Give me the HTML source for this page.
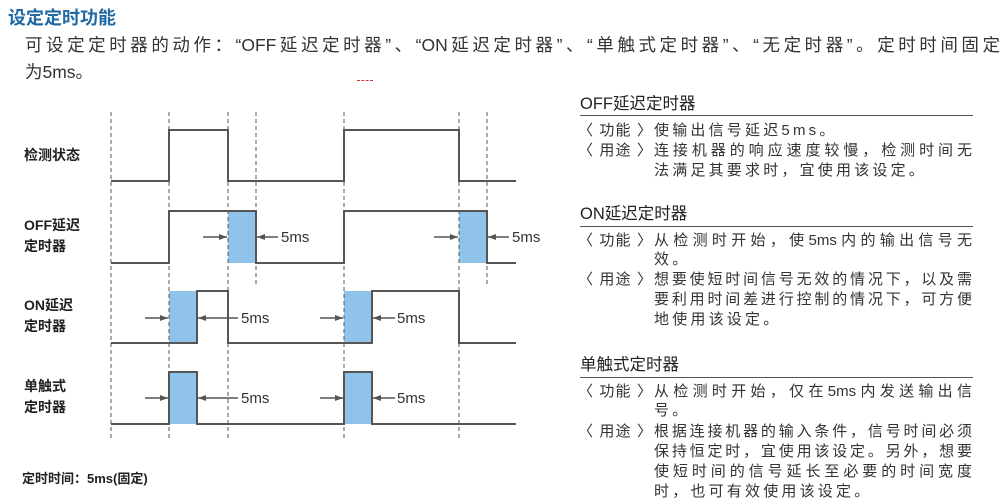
<!DOCTYPE html>
<html><head><meta charset="utf-8"><style>
body{margin:0;width:1000px;height:502px;background:#fff;position:relative;overflow:hidden;font-family:"Liberation Sans","Noto Sans CJK SC",sans-serif;color:#333}
.a{position:absolute;white-space:nowrap}
.j{position:absolute;text-align:justify;text-align-last:justify;white-space:nowrap;overflow:visible}
.lab{position:absolute;font-size:14px;line-height:21px;color:#222;font-weight:bold}
.h{position:absolute;left:580px;font-size:16.5px;color:#222;line-height:20px}
.hl{position:absolute;left:580px;width:393px;height:0;border-top:1.5px solid #555}
.b{position:absolute;font-size:15px;line-height:20px;color:#333;letter-spacing:3.2px}
.p{position:absolute;left:578px;width:74px;font-size:15px;line-height:20px;color:#333;text-align:justify;text-align-last:justify}
</style></head><body>
<div class="a" style="left:8px;top:4px;font-size:18px;font-weight:bold;color:#1f6aa5">设定定时功能</div>
<div class="j" style="left:25px;top:33px;width:975px;font-size:17.5px;line-height:24px">可设定定时器的动作：“OFF延迟定时器”、“ON延迟定时器”、“单触式定时器”、“无定时器”。定时时间固定</div>
<div class="a" style="left:25px;top:60px;font-size:17.5px;line-height:24px">为5ms。</div>
<div class="a" style="left:357px;top:80px;width:16px;border-top:1px dashed #d33"></div>

<svg width="560" height="502" style="position:absolute;left:0;top:0">
<defs><marker id="ar" markerWidth="8" markerHeight="6" refX="8" refY="3" orient="auto" markerUnits="userSpaceOnUse"><path d="M0,0L8,3L0,6z" fill="#555"/></marker></defs>
<g fill="#8fc3ea">
<rect x="228" y="211" width="28" height="52"/><rect x="459" y="211" width="28" height="52"/>
<rect x="169" y="291" width="28" height="52"/><rect x="344" y="291" width="28" height="52"/>
<rect x="169" y="372" width="28" height="52"/><rect x="344" y="372" width="28" height="52"/>
</g>
<g stroke="#555" stroke-width="1" stroke-dasharray="4,3">
<line x1="111" y1="112" x2="111" y2="440"/><line x1="169" y1="112" x2="169" y2="440"/>
<line x1="228" y1="112" x2="228" y2="440"/><line x1="256" y1="112" x2="256" y2="285"/>
<line x1="344" y1="112" x2="344" y2="440"/><line x1="459" y1="112" x2="459" y2="440"/>
<line x1="487" y1="112" x2="487" y2="285"/>
</g>
<g fill="none" stroke="#555" stroke-width="2">
<polyline points="111,181 169,181 169,130 228,130 228,181 344,181 344,130 459,130 459,181 516,181"/>
<polyline points="111,263 169,263 169,211 256,211 256,263 344,263 344,211 487,211 487,263 516,263"/>
<polyline points="111,343 197,343 197,291 228,291 228,343 372,343 372,291 459,291 459,343 516,343"/>
<polyline points="111,424 169,424 169,372 197,372 197,424 344,424 344,372 372,372 372,424 516,424"/>
</g>
<g stroke="#555" stroke-width="1.5">
<line x1="203" y1="237" x2="227" y2="237" marker-end="url(#ar)"/><line x1="278" y1="237" x2="257" y2="237" marker-end="url(#ar)"/>
<line x1="434" y1="237" x2="458" y2="237" marker-end="url(#ar)"/><line x1="509" y1="237" x2="488" y2="237" marker-end="url(#ar)"/>
<line x1="145" y1="318" x2="168" y2="318" marker-end="url(#ar)"/><line x1="238" y1="318" x2="198" y2="318" marker-end="url(#ar)"/>
<line x1="320" y1="318" x2="343" y2="318" marker-end="url(#ar)"/><line x1="395" y1="318" x2="373" y2="318" marker-end="url(#ar)"/>
<line x1="145" y1="398" x2="168" y2="398" marker-end="url(#ar)"/><line x1="238" y1="398" x2="198" y2="398" marker-end="url(#ar)"/>
<line x1="320" y1="398" x2="343" y2="398" marker-end="url(#ar)"/><line x1="395" y1="398" x2="373" y2="398" marker-end="url(#ar)"/>
</g>
<g font-family="Liberation Sans,sans-serif" font-size="15" fill="#333">
<text x="281" y="242">5ms</text><text x="512" y="242">5ms</text>
<text x="241" y="323">5ms</text><text x="397" y="323">5ms</text>
<text x="241" y="403">5ms</text><text x="397" y="403">5ms</text>
</g>
</svg>
<div class="lab" style="left:24px;top:145px">检测状态</div>
<div class="lab" style="left:24px;top:215px">OFF延迟<br>定时器</div>
<div class="lab" style="left:24px;top:295px">ON延迟<br>定时器</div>
<div class="lab" style="left:24px;top:376px">单触式<br>定时器</div>
<div class="a" style="left:22px;top:468px;font-size:13px;font-weight:bold;color:#222">定时时间：5ms(固定)</div>

<div class="h" style="top:94px">OFF延迟定时器</div>
<div class="hl" style="top:115px"></div>
<div class="p" style="top:121px">〈 功能 〉</div><div class="b" style="left:654px;top:121px">使输出信号延迟5ms。</div>
<div class="p" style="top:141px">〈 用途 〉</div><div class="j b" style="left:654px;top:141px;width:318px;letter-spacing:0">连接机器的响应速度较慢，检测时间无</div>
<div class="b" style="left:654px;top:161px">法满足其要求时，宜使用该设定。</div>

<div class="h" style="top:204px">ON延迟定时器</div>
<div class="hl" style="top:226px"></div>
<div class="p" style="top:231px">〈 功能 〉</div><div class="j b" style="left:654px;top:231px;width:318px;letter-spacing:0">从检测时开始，使5ms内的输出信号无</div>
<div class="b" style="left:654px;top:250px">效。</div>
<div class="p" style="top:270px">〈 用途 〉</div><div class="j b" style="left:654px;top:270px;width:318px;letter-spacing:0">想要使短时间信号无效的情况下，以及需</div>
<div class="j b" style="left:654px;top:290px;width:318px;letter-spacing:0">要利用时间差进行控制的情况下，可方便</div>
<div class="b" style="left:654px;top:310px">地使用该设定。</div>

<div class="h" style="top:355px">单触式定时器</div>
<div class="hl" style="top:377px"></div>
<div class="p" style="top:382px">〈 功能 〉</div><div class="j b" style="left:654px;top:382px;width:318px;letter-spacing:0">从检测时开始，仅在5ms内发送输出信</div>
<div class="b" style="left:654px;top:401px">号。</div>
<div class="p" style="top:422px">〈 用途 〉</div><div class="j b" style="left:654px;top:422px;width:318px;letter-spacing:0">根据连接机器的输入条件，信号时间必须</div>
<div class="j b" style="left:654px;top:442px;width:318px;letter-spacing:0">保持恒定时，宜使用该设定。另外，想要</div>
<div class="j b" style="left:654px;top:462px;width:318px;letter-spacing:0">使短时间的信号延长至必要的时间宽度</div>
<div class="b" style="left:654px;top:482px">时，也可有效使用该设定。</div>
</body></html>
